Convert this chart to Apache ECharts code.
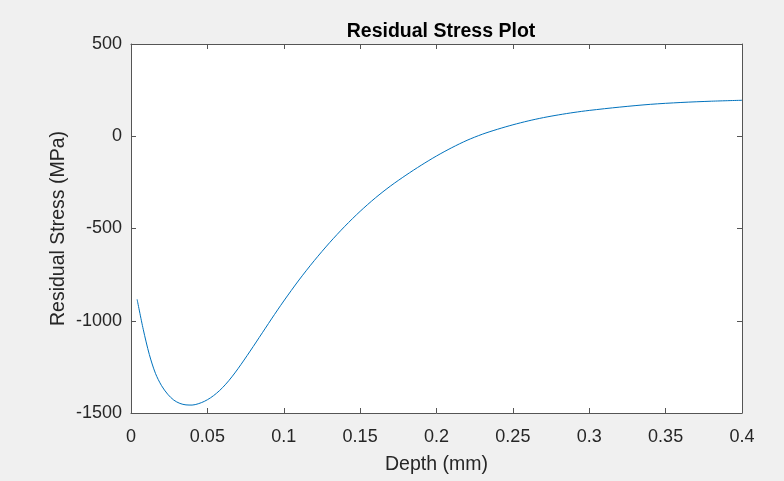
<!DOCTYPE html>
<html><head><meta charset="utf-8">
<script src="https://cdn.jsdelivr.net/npm/echarts@6/dist/echarts.min.js"></script>
<style>html,body{margin:0;padding:0;background:#f0f0f0;}#c{width:784px;height:481px;}</style>
</head><body><div id="c"></div>
<script>
const depth = [0.004,0.008,0.012,0.016,0.020,0.024,0.028,0.032,0.036,0.040,0.044,0.048,0.052,0.056,0.060,0.064,0.068,0.072,0.076,0.080,0.084,0.088,0.092,0.096,0.100,
  0.11,0.12,0.13,0.14,0.15,0.16,0.17,0.18,0.19,0.20,0.21,0.22,0.23,0.24,0.25,0.26,0.27,0.28,0.29,0.30,0.32,0.34,0.36,0.38,0.40];
const stress = [-884,-1046,-1183,-1285,-1352,-1398,-1430,-1448,-1456,-1457,-1450,-1437,-1418,-1393,-1362,-1325,-1283,-1237,-1189,-1140,-1090,-1040,-990,-941,-893,
  -779,-674,-577,-488,-407,-334,-269,-211,-157,-107,-62,-22,11,38,62,83,101,116,129,140,158,173,183,190,195];
const xTicks = {min:0, max:0.4, interval:0.05};
const yTicks = {min:-1500, max:500, interval:500};
const titleText = 'Residual Stress Plot';
const xName = 'Depth (mm)';
const yName = 'Residual Stress (MPa)';

const font = 'Liberation Sans, Arial, Helvetica, sans-serif';
const axisColor = '#555555';
const textColor = '#262626';
const chart = echarts.init(document.getElementById('c'), null, {renderer:'canvas'});
const baseX = {type:'value', min:xTicks.min, max:xTicks.max, interval:xTicks.interval,
  axisLine:{show:true, onZero:false, lineStyle:{color:axisColor, width:1}},
  axisTick:{show:true, inside:true, length:5, lineStyle:{color:axisColor}},
  splitLine:{show:false}};
const baseY = {type:'value', min:yTicks.min, max:yTicks.max, interval:yTicks.interval,
  axisLine:{show:true, onZero:false, lineStyle:{color:axisColor, width:1}},
  axisTick:{show:true, inside:true, length:5, lineStyle:{color:axisColor}},
  splitLine:{show:false}};
chart.setOption({
  backgroundColor:'#f0f0f0',
  animation:false,
  title:{text:titleText, left:436, top:17, textAlign:'center',
    textStyle:{fontFamily:font, fontSize:19.5, fontWeight:'bold', color:'#000'}},
  grid:{left:131, right:42, top:44, bottom:68, show:true, backgroundColor:'#fff', borderWidth:0},
  xAxis:[
    Object.assign({}, baseX, {position:'bottom', name:xName, nameLocation:'middle', nameGap:42,
      nameMoveOverlap:false,
      nameTextStyle:{fontFamily:font, fontSize:19.5, color:textColor},
      axisLabel:{show:true, margin:15, fontFamily:font, fontSize:18, color:textColor,
        formatter:v=>String(+v.toFixed(2))}}),
    Object.assign({}, baseX, {position:'top', axisLabel:{show:false}})
  ],
  yAxis:[
    Object.assign({}, baseY, {position:'left', name:yName, nameLocation:'middle', nameGap:62,
      nameMoveOverlap:false,
      nameTextStyle:{fontFamily:font, fontSize:19.5, color:textColor},
      axisLabel:{show:true, margin:9, fontFamily:font, fontSize:18, color:textColor,
        formatter:v=>String(v)}}),
    Object.assign({}, baseY, {position:'right', axisLabel:{show:false}})
  ],
  series:[{type:'line', xAxisIndex:0, yAxisIndex:0, data:depth.map((d,i)=>[d,stress[i]]),
    smooth:0.3, showSymbol:false, lineStyle:{color:'#0072BD', width:1}}]
});
</script></body></html>
